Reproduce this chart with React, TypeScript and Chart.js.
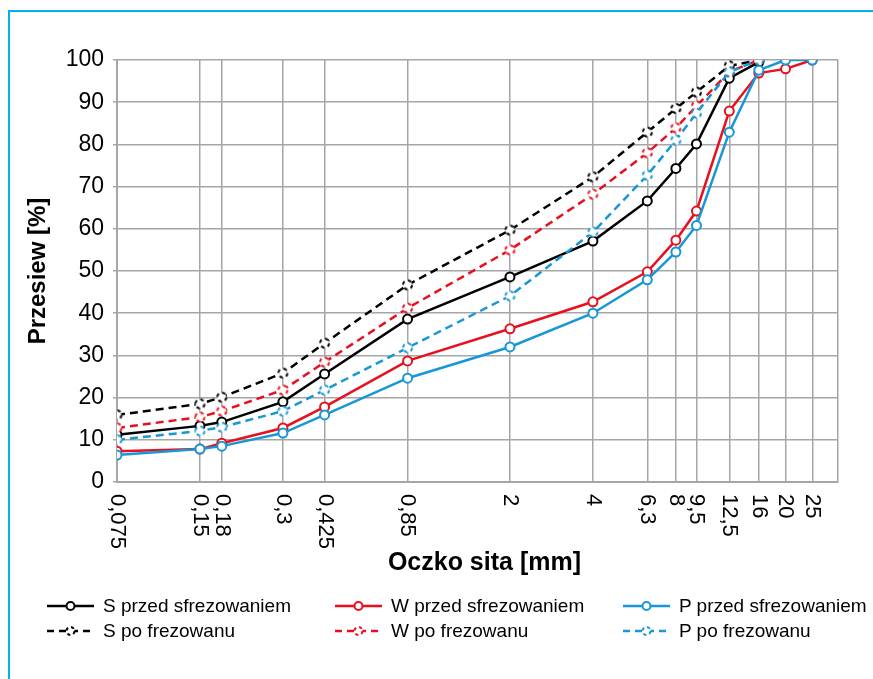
import React, { useEffect, useRef } from 'react';
import { Chart, registerables } from 'chart.js';

Chart.register(...registerables);

// ---- data ----
const sieveSizes = [0.075, 0.15, 0.18, 0.3, 0.425, 0.85, 2, 4, 6.3, 8, 9.5, 12.5, 16, 20, 25];
const sieveLabels = ['0,075', '0,15', '0,18', '0,3', '0,425', '0,85', '2', '4', '6,3', '8', '9,5', '12,5', '16', '20', '25'];
const xAxisMax = 31;

const sPrzed = [11.2, 13.3, 14.2, 19.0, 25.6, 38.6, 48.6, 57.1, 66.6, 74.3, 80.1, 95.7, 99.5, null, null];
const wPrzed = [7.3, 7.8, 9.2, 12.8, 17.8, 28.7, 36.3, 42.7, 49.8, 57.3, 64.2, 87.9, 96.9, 97.9, 100];
const pPrzed = [6.4, 7.8, 8.5, 11.6, 15.9, 24.6, 32.0, 40.0, 47.9, 54.5, 60.8, 82.9, 97.6, 100, 100];
const sPo = [15.9, 18.5, 20.1, 25.8, 32.9, 46.7, 59.7, 72.3, 82.9, 88.5, 92.4, 98.6, 100, null, null];
const wPo = [12.8, 15.4, 16.8, 21.8, 28.4, 41.2, 55.0, 68.2, 78.0, 83.9, 89.1, 97.2, 100, null, null];
const pPo = [10.0, 12.1, 13.0, 16.8, 21.8, 31.8, 44.1, 59.2, 72.7, 81.0, 87.4, 97.2, 100, null, null];

const seriesNames = [
  'S przed sfrezowaniem',
  'W przed sfrezowaniem',
  'P przed sfrezowaniem',
  'S po frezowanu',
  'W po frezowanu',
  'P po frezowanu',
];
const seriesValues = [sPrzed, wPrzed, pPrzed, sPo, wPo, pPo];
const seriesColors = ['#000000', '#e8101f', '#1797d6', '#000000', '#e8101f', '#1797d6'];
const seriesDashed = [false, false, false, true, true, true];

const FONT = '"Liberation Sans", Arial, sans-serif';

function makeDashedMarker(color: string) {
  const c = document.createElement('canvas');
  c.width = 13;
  c.height = 13;
  const g = c.getContext('2d')!;
  g.beginPath();
  g.arc(6.5, 6.5, 4.5, 0, Math.PI * 2);
  g.fillStyle = '#ffffff';
  g.fill();
  g.setLineDash([3.5, 3.5]);
  g.lineWidth = 2;
  g.strokeStyle = color;
  g.stroke();
  return c;
}

const xLabelPlugin = {
  id: 'xRotatedLabels',
  afterDraw(chart: any) {
    const scale = chart.scales.x;
    const ctx = chart.ctx;
    ctx.save();
    ctx.font = `22px ${FONT}`;
    ctx.fillStyle = '#000000';
    ctx.textAlign = 'left';
    ctx.textBaseline = 'middle';
    sieveSizes.forEach((v, i) => {
      const x = scale.getPixelForValue(v);
      ctx.save();
      ctx.translate(x, scale.top + 12);
      ctx.rotate(Math.PI / 2);
      ctx.fillText(sieveLabels[i], 0, 0);
      ctx.restore();
    });
    ctx.restore();
  },
};

function LegendMarker({ color, dashed }: { color: string; dashed: boolean }) {
  return (
    <svg width={48} height={14} style={{ display: 'block' }}>
      <line
        x1={0}
        y1={7}
        x2={47}
        y2={7}
        stroke={color}
        strokeWidth={2.5}
        strokeDasharray={dashed ? '7 5' : undefined}
      />
      <circle
        cx={23.5}
        cy={7}
        r={4}
        fill="#ffffff"
        stroke={color}
        strokeWidth={2}
        strokeDasharray={dashed ? '3.2 3.1' : undefined}
      />
    </svg>
  );
}

export default function App() {
  const canvasRef = useRef<HTMLCanvasElement | null>(null);

  useEffect(() => {
    if (!canvasRef.current) return;
    const datasets = seriesValues.map((vals, i) => ({
      label: seriesNames[i],
      data: sieveSizes
        .map((x, j) => ({ x, y: vals[j] }))
        .filter((p) => p.y !== null),
      borderColor: seriesColors[i],
      backgroundColor: '#ffffff',
      borderWidth: 2.5,
      borderDash: seriesDashed[i] ? [8, 5] : [],
      pointStyle: seriesDashed[i] ? makeDashedMarker(seriesColors[i]) : 'circle',
      pointRadius: 4.5,
      pointBorderWidth: 2,
      pointBackgroundColor: '#ffffff',
      pointBorderColor: seriesColors[i],
      tension: 0,
      fill: false,
      order: 5 - i,
    }));

    const chart = new Chart(canvasRef.current, {
      type: 'line',
      data: { datasets },
      options: {
        animation: false,
        responsive: true,
        maintainAspectRatio: false,
        layout: { padding: { left: 0, top: 60, right: 35, bottom: 97 } },
        plugins: {
          legend: { display: false },
          tooltip: { enabled: false },
        },
        scales: {
          x: {
            type: 'logarithmic',
            min: sieveSizes[0],
            max: xAxisMax,
            afterBuildTicks: (scale: any) => {
              scale.ticks = [...sieveSizes, xAxisMax].map((v) => ({ value: v }));
            },
            afterFit: (scale: any) => {
              scale.height = 100;
            },
            ticks: { display: false },
            grid: { color: '#a6a6a6', lineWidth: 1.5, drawTicks: false },
            border: { color: '#a6a6a6', width: 2 },
            title: {
              display: true,
              text: '  Oczko sita [mm]',
              color: '#000000',
              font: { family: FONT, size: 25, weight: 'bold' },
              padding: { top: 0, bottom: 4 },
            },
          },
          y: {
            min: 0,
            max: 100,
            afterFit: (scale: any) => {
              scale.width = 117;
            },
            ticks: {
              stepSize: 10,
              color: '#000000',
              padding: 9,
              font: { family: FONT, size: 23 },
            },
            grid: { color: '#a6a6a6', lineWidth: 1.5, tickLength: 4 },
            border: { color: '#a6a6a6', width: 2 },
            title: {
              display: true,
              text: 'Przesiew [%]',
              color: '#000000',
              font: { family: FONT, size: 24, weight: 'bold' },
              padding: { top: 24, bottom: 0 },
            },
          },
        },
      },
      plugins: [xLabelPlugin],
    });
    return () => chart.destroy();
  }, []);

  const colX = [47, 335, 623];
  const rowY = [598, 623];

  return (
    <div
      style={{
        position: 'fixed',
        left: 0,
        top: 0,
        width: 873,
        height: 679,
        overflow: 'hidden',
        background: '#ffffff',
      }}
    >
      <div
        style={{
          position: 'absolute',
          left: 8,
          top: 10,
          width: 900,
          height: 700,
          borderTop: '2px solid #00b0f0',
          borderLeft: '2px solid #00b0f0',
        }}
      />
      <div style={{ position: 'absolute', left: 0, top: 0, width: 873, height: 679 }}>
        <canvas ref={canvasRef} />
      </div>
      {seriesNames.map((name, i) => {
        const col = i % 3;
        const row = Math.floor(i / 3);
        return (
          <div
            key={name}
            style={{
              position: 'absolute',
              left: colX[col],
              top: rowY[row],
              height: 16,
              display: 'flex',
              alignItems: 'center',
              fontFamily: FONT,
              fontSize: 19,
              color: '#000000',
              whiteSpace: 'nowrap',
            }}
          >
            <LegendMarker color={seriesColors[i]} dashed={seriesDashed[i]} />
            <span style={{ marginLeft: 8 }}>{name}</span>
          </div>
        );
      })}
    </div>
  );
}
